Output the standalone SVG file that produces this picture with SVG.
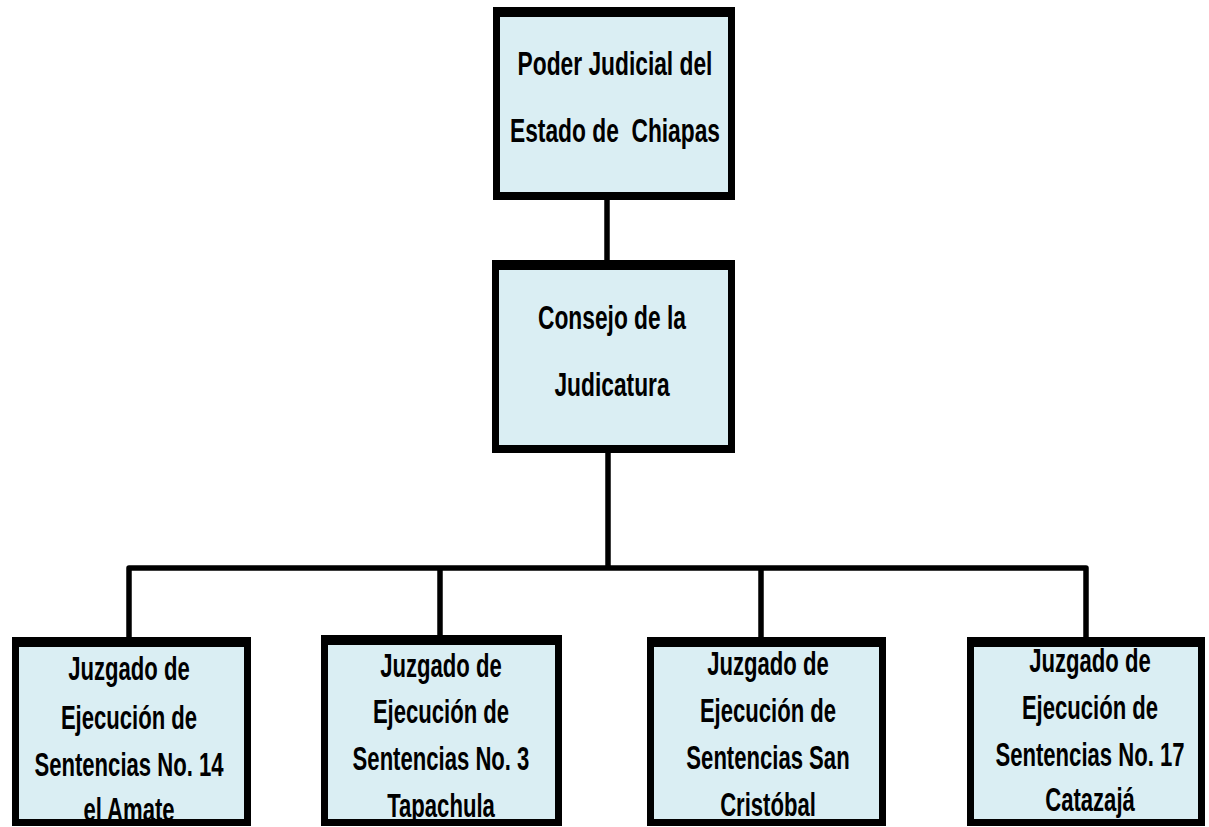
<svg xmlns="http://www.w3.org/2000/svg" width="1209" height="827" viewBox="0 0 1209 827">
<style>
.bg{fill:#DAEEF3}
.bd{fill:#000;fill-rule:evenodd}
.t{font-family:"Liberation Sans",Arial,sans-serif;font-weight:bold;font-size:33px;fill:#000;text-anchor:middle}
.tb{font-size:34px}
.cn{fill:none;stroke:#000;stroke-width:5.5;stroke-linejoin:round;stroke-linecap:butt}
</style>
<rect width="1209" height="827" fill="#fff"/>
<g id="connectors">
<path class="cn" d="M607 200 V260"/>
<path class="cn" d="M608 453 V568"/>
<path class="cn" d="M129 637 V568 H1086 V637"/>
<path class="cn" d="M440 568 V635"/>
<path class="cn" d="M761 568 V637"/>
</g>
<g id="poder-judicial">
<rect class="bg" x="493" y="7" width="242" height="193"/>
<text class="t" transform="translate(615,75) scale(0.69,1)">Poder Judicial del</text>
<text class="t" transform="translate(615,142) scale(0.69,1)" xml:space="preserve">Estado de  Chiapas</text>
<path class="bd" d="M493 7H735V200H493Z M500 17V192H728V17Z"/>
</g>
<g id="consejo">
<rect class="bg" x="492" y="260" width="243" height="193"/>
<text class="t" transform="translate(612,329) scale(0.69,1)">Consejo de la</text>
<text class="t" transform="translate(612,396) scale(0.69,1)">Judicatura</text>
<path class="bd" d="M492 260H735V453H492Z M499 270V445H728V270Z"/>
</g>
<g id="juzgado-14">
<rect class="bg" x="12" y="637" width="239" height="189"/>
<text class="t tb" transform="translate(129,680) scale(0.65,1)">Juzgado de</text>
<text class="t tb" transform="translate(129,729) scale(0.65,1)">Ejecución de</text>
<text class="t tb" transform="translate(129,776) scale(0.65,1)">Sentencias No. 14</text>
<text class="t tb" transform="translate(129,821) scale(0.65,1)">el Amate</text>
<path class="bd" d="M12 637H251V826H12Z M19 647V819H244V647Z"/>
</g>
<g id="juzgado-3">
<rect class="bg" x="321" y="635" width="241" height="191"/>
<text class="t tb" transform="translate(441,677) scale(0.65,1)">Juzgado de</text>
<text class="t tb" transform="translate(441,723) scale(0.65,1)">Ejecución de</text>
<text class="t tb" transform="translate(441,770) scale(0.65,1)">Sentencias No. 3</text>
<text class="t tb" transform="translate(441,817) scale(0.65,1)">Tapachula</text>
<path class="bd" d="M321 635H562V826H321Z M328 645V819H555V645Z"/>
</g>
<g id="juzgado-san-cristobal">
<rect class="bg" x="647" y="637" width="239" height="189"/>
<text class="t tb" transform="translate(768,675) scale(0.65,1)">Juzgado de</text>
<text class="t tb" transform="translate(768,722) scale(0.65,1)">Ejecución de</text>
<text class="t tb" transform="translate(768,769) scale(0.65,1)">Sentencias San</text>
<text class="t tb" transform="translate(768,816) scale(0.65,1)">Cristóbal</text>
<path class="bd" d="M647 637H886V826H647Z M654 647V819H879V647Z"/>
</g>
<g id="juzgado-17">
<rect class="bg" x="967" y="637" width="238" height="189"/>
<text class="t tb" transform="translate(1090,672) scale(0.65,1)">Juzgado de</text>
<text class="t tb" transform="translate(1090,719) scale(0.65,1)">Ejecución de</text>
<text class="t tb" transform="translate(1090,766) scale(0.65,1)">Sentencias No. 17</text>
<text class="t tb" transform="translate(1090,811) scale(0.65,1)">Catazajá</text>
<path class="bd" d="M967 637H1205V826H967Z M974 647V819H1198V647Z"/>
</g>
</svg>
